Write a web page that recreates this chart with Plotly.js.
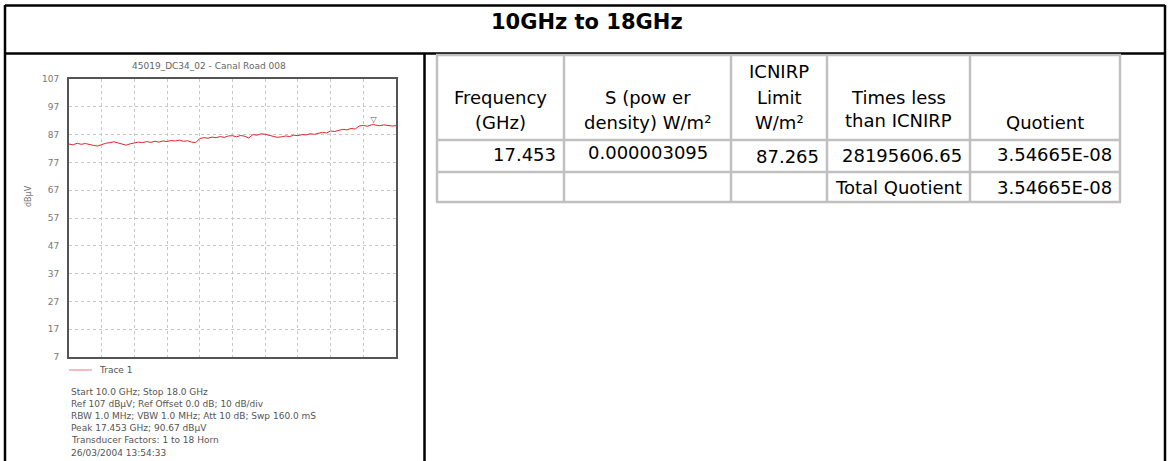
<!DOCTYPE html>
<html><head><meta charset="utf-8">
<script src="https://cdn.plot.ly/plotly-3.0.1.min.js"></script>
<style>html,body{margin:0;padding:0;background:#fff}#chart{width:1170px;height:461px}</style>
</head><body><div id="chart"></div>
<script>
// ---- data ----
const pageTitle = "10GHz to 18GHz";
const chartTitle = "45019_DC34_02 - Canal Road 008";
const yAxisLabel = "dBμV";
const traceName = "Trace 1";
const freqGHz = [10.0,10.1,10.2,10.3,10.4,10.5,10.6,10.7,10.8,10.9,
  11.0,11.1,11.2,11.3,11.4,11.5,11.6,11.7,11.8,11.9,
  12.0,12.1,12.2,12.3,12.4,12.5,12.6,12.7,12.8,12.9,
  13.0,13.1,13.2,13.3,13.4,13.5,13.6,13.7,13.8,13.9,
  14.0,14.1,14.2,14.3,14.4,14.5,14.6,14.7,14.8,14.9,
  15.0,15.1,15.2,15.3,15.4,15.5,15.6,15.7,15.8,15.9,
  16.0,16.1,16.2,16.3,16.4,16.5,16.6,16.7,16.8,16.9,
  17.0,17.1,17.2,17.3,17.4,17.453,17.5,17.6,17.7,17.8,17.9,18.0];
const levelDbuV = [83.6,83.3,83.9,83.5,83.8,83.4,83.1,82.9,83.5,83.9,
  84.1,84.4,84.0,83.6,83.2,83.7,84.0,84.3,84.1,84.5,
  84.2,84.6,84.3,84.7,84.5,84.9,84.7,85.0,84.6,84.8,
  84.3,84.1,85.6,85.9,85.7,86.1,85.9,86.3,86.0,86.5,
  86.6,86.2,86.7,86.4,85.8,87.0,86.8,87.3,87.1,86.7,
  86.3,86.0,86.2,86.5,86.3,86.8,86.6,87.0,86.9,87.3,
  87.1,87.5,87.8,87.6,88.3,88.1,88.6,88.9,88.7,89.2,
  89.0,90.1,90.3,90.0,90.5,90.67,90.4,90.2,90.5,90.3,90.1,90.2];
const peakFreq = [17.453];
const peakLevel = [90.67];
const yTicks = [7,17,27,37,47,57,67,77,87,97,107];
const infoLines = [
  "Start 10.0 GHz; Stop 18.0 GHz",
  "Ref 107 dBµV; Ref Offset 0.0 dB; 10 dB/div",
  "RBW 1.0 MHz; VBW 1.0 MHz; Att 10 dB; Swp 160.0 mS",
  "Peak 17.453 GHz; 90.67 dBµV",
  "Transducer Factors: 1 to 18 Horn",
  "26/03/2004 13:54:33"
];
const tableHeaders = [
  ["Frequency","(GHz)"],
  ["S (pow er","density) W/m²"],
  ["ICNIRP","Limit","W/m²"],
  ["Times less","than ICNIRP"],
  ["Quotient"]
];
const tableRow1 = ["17.453","0.000003095","87.265","28195606.65","3.54665E-08"];
const tableRow2 = ["","","","Total Quotient","3.54665E-08"];

// ---- layout helpers ----
const W = 1170, H = 461;
const fx = x => x / W;
const fy = y => 1 - y / H;
const tableFont = {family:"DejaVu Sans", size:18, color:"#000"};
const smallFont = {family:"DejaVu Sans", size:9, color:"#555"};

const shapes = [];
const annotations = [];
function line(x0,y0,x1,y1,color,width){
  shapes.push({type:"line",xref:"paper",yref:"paper",x0:fx(x0),y0:fy(y0),x1:fx(x1),y1:fy(y1),line:{color:color,width:width}});
}
function text(t,x,y,xa,font,extra){
  annotations.push(Object.assign({text:t,xref:"paper",yref:"paper",x:fx(x),y:fy(y),xanchor:xa,yanchor:"middle",showarrow:false,font:font},extra||{}));
}

// outer frame
const K = "#000";
line(5,5.5,1165,5.5,K,2.5);
line(5,5,5,461,K,2.5);
line(1165,5,1165,461,K,2.5);
line(5,53.5,1165,53.5,K,2.5);
line(424.5,53,424.5,461,K,2.5);
text(pageTitle,587,22,"center",{family:"DejaVu Sans",size:21,color:"#000",weight:"bold"},{text:"<b>"+pageTitle+"</b>"});

// table grid
const colX = [437,564,731,827,970,1120];
const rowY = [55,140,172,202];
const G = "#c0c0c0";
colX.forEach(x=>line(x,55,x,202,G,2.5));
rowY.forEach(y=>line(436,y,1121,y,G,2.5));

// header text, bottom aligned
const headerLastY = [123,123,123,120,123];
tableHeaders.forEach((lines,c)=>{
  const cx = (colX[c]+colX[c+1])/2;
  const n = lines.length;
  lines.forEach((t,i)=>{
    const y = headerLastY[c] - (n-1-i)*(c===3?23:26);
    text(t,cx,y,"center",tableFont);
  });
});
// data rows
const row1Y = [154,152,156,155,154];
const align1 = ["right","center","right","right","right"];
tableRow1.forEach((t,c)=>{
  const a = align1[c];
  const x = a==="right" ? colX[c+1]-6 : (colX[c]+colX[c+1])/2;
  text(t,x,row1Y[c],a,tableFont);
});
const align2 = ["right","center","right","center","right"];
tableRow2.forEach((t,c)=>{
  if(!t) return;
  const a = align2[c];
  const x = a==="right" ? colX[c+1]-6 : (colX[c]+colX[c+1])/2;
  text(t,x,187,a,tableFont);
});

// chart texts
text(chartTitle,209,66,"center",{family:"DejaVu Sans",size:9,color:"#666"});
text(yAxisLabel,28,196,"center",{family:"DejaVu Sans",size:8,color:"#777"},{textangle:-90});
line(69,370,92,370,"#f2a4ae",1.5);
text(traceName,97,370,"left",smallFont);
infoLines.forEach((t,i)=>text(t,69,392+i*12.1,"left",smallFont));

const traces = [
  {type:"scatter",mode:"lines",x:freqGHz,y:levelDbuV,name:traceName,
   line:{color:"#e3262e",width:1},showlegend:false,hoverinfo:"skip"},
  {type:"scatter",mode:"text",x:peakFreq,y:peakLevel,text:["▽"],textposition:"top center",
   textfont:{family:"DejaVu Sans",size:8,color:"#555"},showlegend:false,hoverinfo:"skip"}
];

const layout = {
  width:W,height:H,margin:{l:0,r:0,t:0,b:0},
  paper_bgcolor:"#fff",plot_bgcolor:"#fff",showlegend:false,
  xaxis:{domain:[fx(69),fx(396)],range:[10,18],tick0:10,dtick:0.8,showticklabels:false,ticks:"",
    showgrid:true,gridcolor:"#c8c8c8",griddash:"dot",gridwidth:1,zeroline:false,
    showline:true,mirror:true,linecolor:"#555",linewidth:2,fixedrange:true},
  yaxis:{domain:[fy(357),fy(79)],range:[7,107],tickvals:yTicks,ticktext:yTicks.map(String),ticks:"",
    ticklabelstandoff:6,tickfont:{family:"DejaVu Sans",size:9,color:"#777"},
    showgrid:true,gridcolor:"#c8c8c8",griddash:"dot",gridwidth:1,zeroline:false,
    showline:true,mirror:true,linecolor:"#555",linewidth:2,fixedrange:true},
  shapes:shapes,annotations:annotations
};
Plotly.newPlot("chart",traces,layout,{staticPlot:true,displayModeBar:false});
</script></body></html>
